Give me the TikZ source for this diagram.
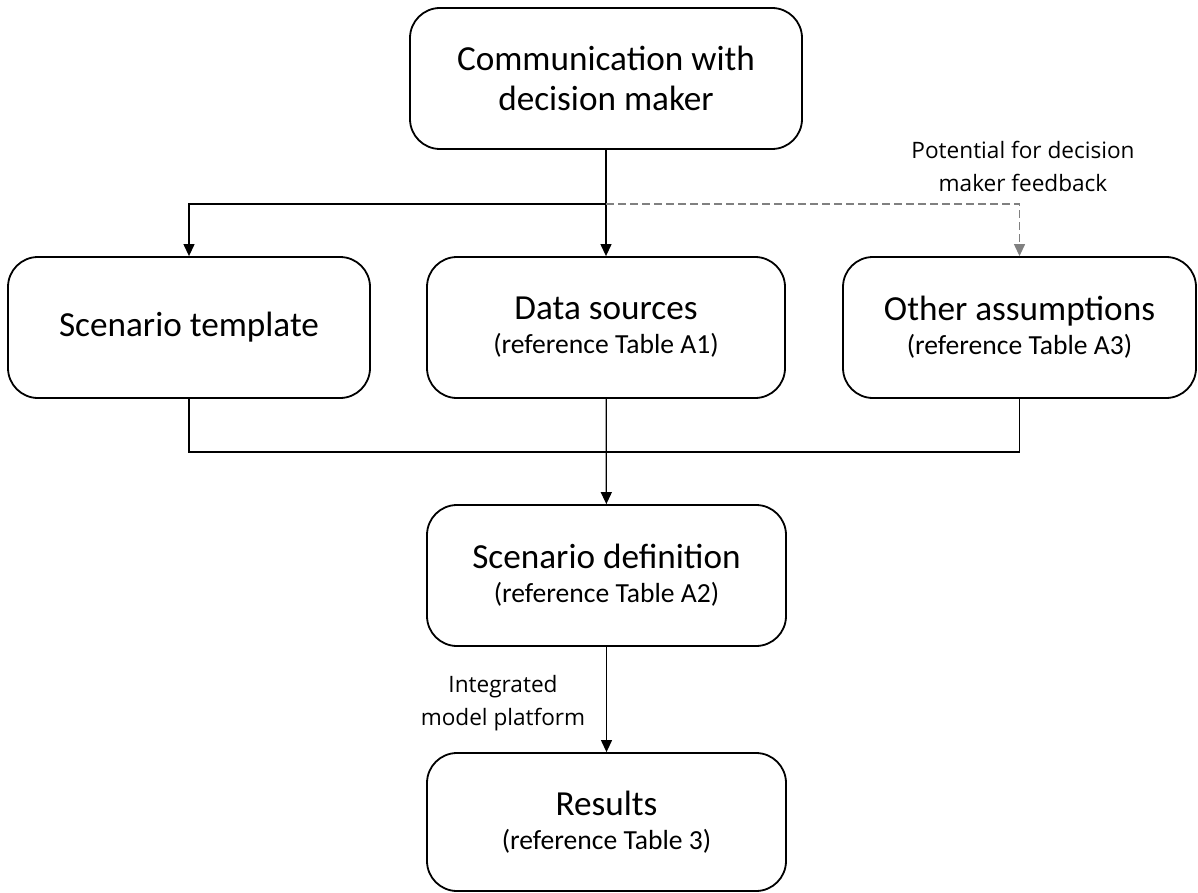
\documentclass[tikz,border=0pt]{standalone}
\usepackage{fontspec}
\setmainfont{Carlito}
\newfontfamily\notefont{Open Sans}
\usetikzlibrary{arrows.meta,positioning}

\newcommand{\tabref}[1]{\\[-3pt]{\fontsize{13.8}{16}\selectfont(reference Table #1)}}

\begin{document}
\begin{tikzpicture}[x=0.5pt, y=-0.5pt,
    stage/.style={draw, line width=0.9pt, rounded corners=15pt, align=center,
      minimum height=70.5pt, inner sep=2pt, font=\fontsize{17.6}{20}\selectfont},
    link/.style={line width=0.6pt},
    arr/.style={link, -{Triangle[length=6pt,width=5.5pt]}},
    note/.style={align=center, font=\notefont\fontsize{11.3}{16.5}\selectfont}]
		\useasboundingbox (0,0) rectangle (1198,893);
		
		\node[stage, minimum width=196pt] (comm) at (606,78.5) {Communication with\\decision maker};
		
		\node[stage, minimum width=181pt] (templ) at (189,327.5) {Scenario template};
		\node[stage, minimum width=179pt] (data) at (606,327.5) {Data sources\tabref{A1}};
		\node[stage, minimum width=176.5pt] (assum) at (1019.5,327.5) {Other assumptions\tabref{A3}};
		
		\node[stage, minimum width=179.5pt] (defn) at (606.5,575.5) {Scenario definition\tabref{A2}};
		\node[stage, minimum width=179.5pt, minimum height=69pt] (res) at (606.5,822) {Results\tabref{3}};
		
		\node[note] (fblbl) at (1023,166) {Potential for decision\\maker feedback};
		\node[note] (platlbl) at (503,703) {Integrated\\model platform};
		
		\coordinate (topj) at (606,204);
		\coordinate (botj) at (606,452);
		
		% Draw edges
		\draw[arr] (comm) -- (data);
		\draw[arr] (topj) -| (templ.north);
		\draw[arr, dash pattern=on 4pt off 2pt, gray] (topj) -| (assum.north);
		
		\draw[link] (templ.south) |- (botj);
		\draw[link] (assum.south) |- (botj);
		\draw[arr] (data) -- (defn);
		
		\draw[arr] (defn) -- (res);
	\end{tikzpicture}
\end{document}
